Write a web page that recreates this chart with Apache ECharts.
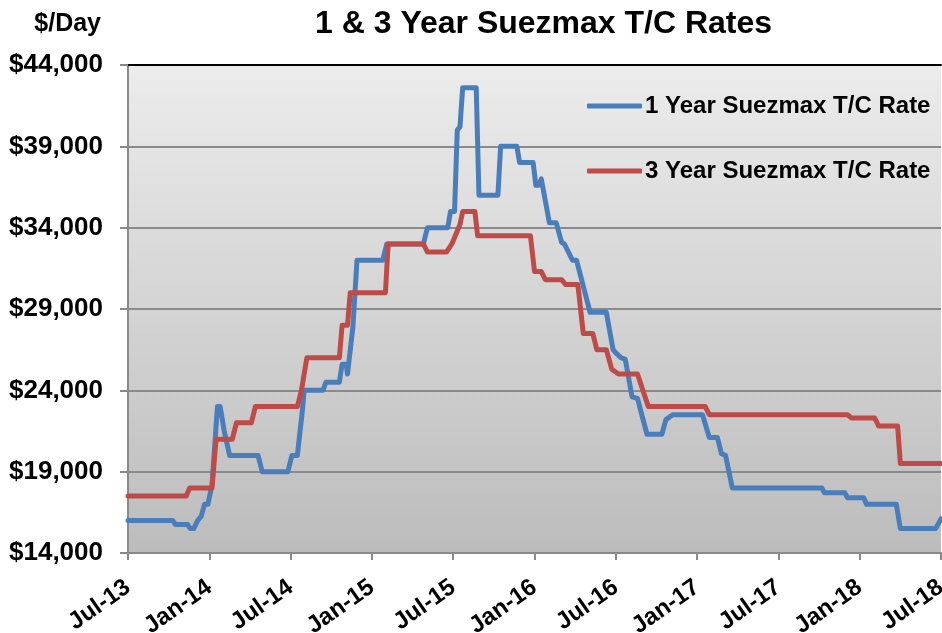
<!DOCTYPE html>
<html>
<head>
<meta charset="utf-8">
<script src="https://cdn.jsdelivr.net/npm/echarts@6/dist/echarts.min.js"></script>
<style>
  html, body { margin: 0; padding: 0; background: #ffffff; }
  #chart { width: 942px; height: 633px; }
</style>
</head>
<body>
<div id="chart"></div>
<script>
// ---- data (x = months since Jul-13) ----
const tickLabels = ['Jul-13', 'Jan-14', 'Jul-14', 'Jan-15', 'Jul-15', 'Jan-16',
                    'Jul-16', 'Jan-17', 'Jul-17', 'Jan-18', 'Jul-18'];

const oneYearMonths = [0, 3.3, 3.5, 4.4, 4.6, 4.85, 5.15, 5.4, 5.65, 5.9, 6.2, 6.6, 6.8, 7.1, 7.5,
  9.6, 9.9, 11.8, 12.1, 12.5, 12.9, 13.0, 14.4, 14.6, 15.6, 15.8, 16.1, 16.2, 16.6, 16.9,
  18.8, 19.1, 21.8, 22.1, 23.6, 23.8, 24.1, 24.3, 24.5, 24.7, 25.7, 25.9, 27.3, 27.5,
  28.7, 28.9, 29.9, 30.1, 30.3, 30.5, 31.1, 31.6, 32.0, 32.2, 32.8, 33.1, 34.1, 35.3,
  35.8, 36.0, 36.4, 36.7, 37.2, 37.6, 38.3, 39.4, 39.7, 40.2, 42.4, 42.9, 43.5, 43.8,
  44.1, 44.6, 51.2, 51.4, 52.9, 53.1, 54.3, 54.5, 56.7, 57.0, 59.6, 60];
const oneYearRates = [16000, 16000, 15750, 15750, 15500, 15500, 16000, 16250, 17000, 17000, 18200, 23000, 23000, 21500, 20000,
  20000, 19000, 19000, 20000, 20000, 23000, 24000, 24000, 24500, 24500, 25600, 25600, 25000, 27900, 32000,
  32000, 33000, 33000, 34000, 34000, 35000, 35000, 40000, 40200, 42600, 42600, 36000, 36000, 39000,
  39000, 38000, 38000, 36600, 36600, 37000, 34300, 34300, 33100, 33000, 32000, 32000, 28800, 28800,
  26500, 26300, 26000, 25900, 23600, 23500, 21300, 21300, 22200, 22500, 22500, 21100, 21100, 20100,
  20000, 18000, 18000, 17700, 17700, 17400, 17400, 17000, 17000, 15500, 15500, 16100];

const threeYearMonths = [0, 4.3, 4.55, 6.2, 6.5, 7.7, 8.0, 9.1, 9.4, 12.5, 12.8, 12.9, 13.2, 15.6, 15.8,
  16.2, 16.4, 19.0, 19.2, 21.8, 22.1, 23.5, 23.9, 24.3, 24.5, 24.7, 25.6, 25.8, 29.7, 30.0,
  30.5, 30.8, 32.0, 32.3, 33.2, 33.6, 34.3, 34.6, 35.3, 35.7, 36.2, 37.6, 38.4, 42.6, 42.9,
  53.1, 53.4, 55.1, 55.4, 56.8, 57.0, 60];
const threeYearRates = [17500, 17500, 18000, 18000, 21000, 21000, 22000, 22000, 23000, 23000, 24000, 24000, 26000, 26000, 28000,
  28000, 30000, 30000, 33000, 33000, 32500, 32500, 33000, 33800, 34200, 35000, 35000, 33500, 33500, 31300,
  31300, 30800, 30800, 30500, 30500, 27500, 27500, 26500, 26500, 25300, 25000, 25000, 23000, 23000, 22500,
  22500, 22300, 22300, 21800, 21800, 19500, 19500];

const seriesNames = ['1 Year Suezmax T/C Rate', '3 Year Suezmax T/C Rate'];

// ---- chart ----
const zip = (xs, ys) => xs.map((x, i) => [x, ys[i]]);
const FONT = '"Liberation Sans", Arial, sans-serif';
const chart = echarts.init(document.getElementById('chart'), null, { renderer: 'canvas' });

chart.setOption({
  animation: false,
  backgroundColor: '#ffffff',
  title: {
    text: '1 & 3 Year Suezmax T/C Rates',
    left: 315,
    top: 8,
    padding: 0,
    textStyle: { fontFamily: FONT, fontSize: 32, fontWeight: 'bold', color: '#000' }
  },
  legend: {
    orient: 'vertical',
    left: 587,
    top: 93,
    padding: 0,
    icon: 'roundRect',
    itemWidth: 55,
    itemHeight: 5,
    itemGap: 39,
    data: seriesNames,
    textStyle: { fontFamily: FONT, fontSize: 24, fontWeight: 'bold', color: '#000', lineHeight: 26, padding: [0, 0, 0, -2] }
  },
  grid: {
    left: 128, right: 1, top: 65, bottom: 80,
    outerBoundsMode: 'none',
    containLabel: false,
    show: true,
    borderWidth: 0,
    backgroundColor: new echarts.graphic.LinearGradient(0, 0, 0, 1, [
      { offset: 0, color: '#ececec' },
      { offset: 1, color: '#bcbcbc' }
    ])
  },
  xAxis: [{
    type: 'value',
    min: 0, max: 60, interval: 6,
    position: 'bottom',
    axisLine: { show: true, onZero: false, lineStyle: { color: '#8a8a8a', width: 2 } },
    axisTick: { show: true, length: 7, lineStyle: { color: '#8a8a8a', width: 2 } },
    splitLine: { show: false },
    axisLabel: {
      rotate: 35,
      margin: 32,
      hideOverlap: false,
      fontFamily: FONT, fontSize: 24, fontWeight: 'bold', color: '#000',
      formatter: v => tickLabels[Math.round(v / 6)] || ''
    }
  }, {
    type: 'value',
    min: 0, max: 60, interval: 6,
    position: 'top',
    axisLine: { show: true, onZero: false, lineStyle: { color: '#000', width: 2 } },
    axisTick: { show: false },
    axisLabel: { show: false },
    splitLine: { show: false }
  }],
  yAxis: {
    type: 'value',
    min: 14000, max: 44000, interval: 5000,
    name: '$/Day',
    nameLocation: 'end',
    nameGap: 28,
    nameTextStyle: { fontFamily: FONT, fontSize: 25, fontWeight: 'bold', color: '#000', align: 'right', padding: [0, 27, 0, 0] },
    axisLine: { show: true, lineStyle: { color: '#8a8a8a', width: 2 } },
    axisTick: { show: true, length: 8, lineStyle: { color: '#8a8a8a', width: 2 } },
    splitLine: { show: true, lineStyle: { color: '#8a8a8a', width: 2 } },
    axisLabel: {
      margin: 25,
      fontFamily: FONT, fontSize: 26, fontWeight: 'bold', color: '#000',
      formatter: v => '$' + v.toLocaleString('en-US')
    }
  },
  series: [{
    name: seriesNames[0],
    type: 'line',
    data: zip(oneYearMonths, oneYearRates),
    symbol: 'none',
    lineStyle: { color: '#4a7ebb', width: 5, cap: 'round', join: 'round' },
    itemStyle: { color: '#4a7ebb' },
    z: 3
  }, {
    name: seriesNames[1],
    type: 'line',
    data: zip(threeYearMonths, threeYearRates),
    symbol: 'none',
    lineStyle: { color: '#be4b48', width: 5, cap: 'round', join: 'round' },
    itemStyle: { color: '#be4b48' },
    z: 4
  }]
});
</script>
</body>
</html>
